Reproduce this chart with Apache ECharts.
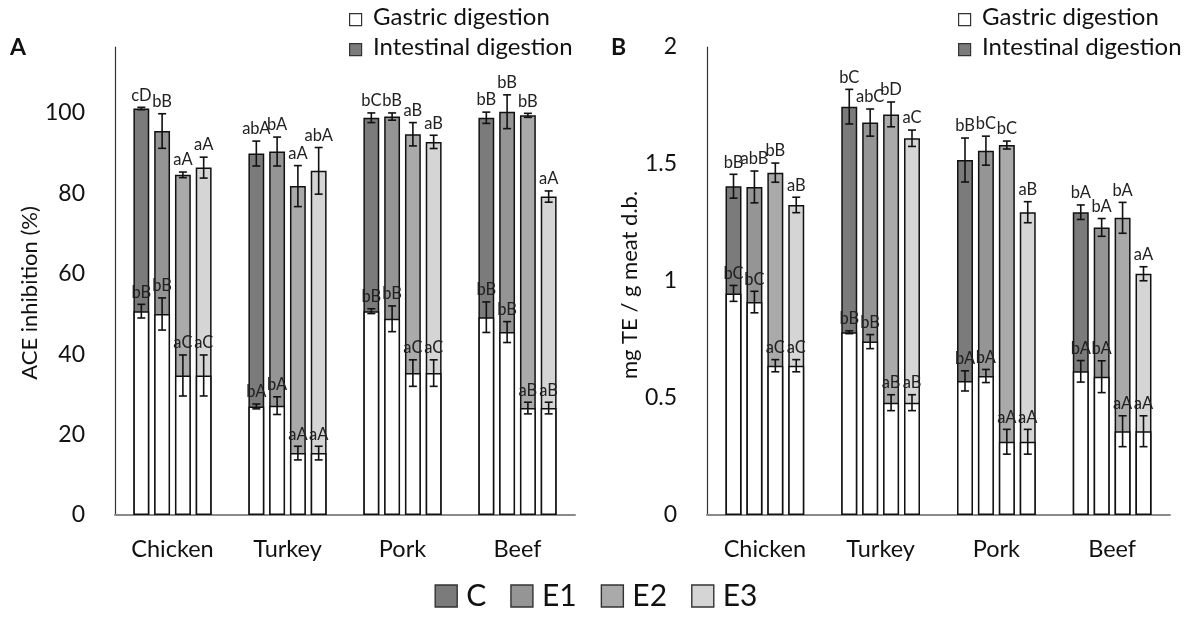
<!DOCTYPE html>
<html>
<head>
<meta charset="utf-8">
<script src="https://cdn.jsdelivr.net/npm/echarts@6/dist/echarts.min.js"></script>
<style>html,body{margin:0;padding:0;background:#fff}#c{width:1192px;height:624px}</style>
</head>
<body>
<div id="c"></div>
<script>
// ---------- DATA ----------
const categories = ['Chicken', 'Turkey', 'Pork', 'Beef'];
const treatments = ['C', 'E1', 'E2', 'E3'];
const yTicksA = [0, 20, 40, 60, 80, 100];
const yTicksB = [0, 0.5, 1, 1.5, 2];

// Panel A – ACE inhibition (%), intestinal digestion (total bar height)
const aIntC  = [101.1, 89.9, 98.8, 98.8];
const aIntE1 = [95.5, 90.4, 99.1, 100.3];
const aIntE2 = [84.6, 81.8, 94.7, 99.4];
const aIntE3 = [86.4, 85.6, 92.8, 79.2];
const aIntErrC  = [0.3, 3.1, 1.2, 1.4];
const aIntErrE1 = [4.3, 3.6, 0.9, 4.2];
const aIntErrE2 = [0.7, 5.1, 2.9, 0.5];
const aIntErrE3 = [2.6, 5.8, 1.65, 1.4];
const aIntLblC  = ['cD', 'abA', 'bC', 'bB'];
const aIntLblE1 = ['bB', 'bA', 'bB', 'bB'];
const aIntLblE2 = ['aA', 'aA', 'aB', 'bB'];
const aIntLblE3 = ['aA', 'abA', 'aB', 'aA'];
// Panel A – gastric digestion
const aGasC  = [50.7, 27.0, 50.7, 49.2];
const aGasE1 = [50.0, 27.2, 48.8, 45.5];
const aGasE2 = [34.7, 15.4, 35.3, 26.6];
const aGasE3 = [34.7, 15.4, 35.3, 26.6];
const aGasErrC  = [1.7, 0.6, 0.6, 3.8];
const aGasErrE1 = [4.0, 2.2, 3.2, 2.6];
const aGasErrE2 = [5.1, 1.7, 3.3, 1.45];
const aGasErrE3 = [5.1, 1.7, 3.3, 1.45];
const aGasLblC  = ['bB', 'bA', 'bB', 'bB'];
const aGasLblE1 = ['bB', 'bA', 'bB', 'bB'];
const aGasLblE2 = ['aC', 'aA', 'aC', 'aB'];
const aGasLblE3 = ['aC', 'aA', 'aC', 'aB'];

// Panel B – mg TE / g meat d.b., intestinal digestion
const bIntC  = [1.405, 1.745, 1.517, 1.294];
const bIntE1 = [1.402, 1.677, 1.557, 1.229];
const bIntE2 = [1.463, 1.712, 1.581, 1.270];
const bIntE3 = [1.325, 1.610, 1.294, 1.031];
const bIntErrC  = [0.051, 0.074, 0.094, 0.031];
const bIntErrE1 = [0.068, 0.058, 0.062, 0.038];
const bIntErrE2 = [0.041, 0.053, 0.017, 0.066];
const bIntErrE3 = [0.033, 0.035, 0.045, 0.030];
const bIntLblC  = ['bB', 'bC', 'bB', 'bA'];
const bIntLblE1 = ['abB', 'abC', 'bC', 'bA'];
const bIntLblE2 = ['bB', 'bD', 'bC', 'bA'];
const bIntLblE3 = ['aB', 'aC', 'aB', 'aA'];
// Panel B – gastric digestion
const bGasC  = [0.947, 0.781, 0.573, 0.614];
const bGasE1 = [0.910, 0.741, 0.594, 0.591];
const bGasE2 = [0.638, 0.480, 0.313, 0.358];
const bGasE3 = [0.638, 0.480, 0.313, 0.358];
const bGasErrC  = [0.034, 0.006, 0.043, 0.046];
const bGasErrE1 = [0.046, 0.030, 0.028, 0.068];
const bGasErrE2 = [0.026, 0.034, 0.053, 0.066];
const bGasErrE3 = [0.026, 0.034, 0.053, 0.066];
const bGasLblC  = ['bC', 'bB', 'bA', 'bA'];
const bGasLblE1 = ['bC', 'bB', 'bA', 'bA'];
const bGasLblE2 = ['aC', 'aB', 'aA', 'aA'];
const bGasLblE3 = ['aC', 'aB', 'aA', 'aA'];

// ---------- STYLE ----------
const FONT = 'Lato';
const colors = ['#7b7b7b', '#959595', '#aaaaaa', '#d5d5d5'];
const CAT_GAP = 0.32, BAR_GAP = 0.31;

const aInt = [aIntC, aIntE1, aIntE2, aIntE3];
const aIntErr = [aIntErrC, aIntErrE1, aIntErrE2, aIntErrE3];
const aIntLbl = [aIntLblC, aIntLblE1, aIntLblE2, aIntLblE3];
const aGas = [aGasC, aGasE1, aGasE2, aGasE3];
const aGasErr = [aGasErrC, aGasErrE1, aGasErrE2, aGasErrE3];
const aGasLbl = [aGasLblC, aGasLblE1, aGasLblE2, aGasLblE3];
const bInt = [bIntC, bIntE1, bIntE2, bIntE3];
const bIntErr = [bIntErrC, bIntErrE1, bIntErrE2, bIntErrE3];
const bIntLbl = [bIntLblC, bIntLblE1, bIntLblE2, bIntLblE3];
const bGas = [bGasC, bGasE1, bGasE2, bGasE3];
const bGasErr = [bGasErrC, bGasErrE1, bGasErrE2, bGasErrE3];
const bGasLbl = [bGasLblC, bGasLblE1, bGasLblE2, bGasLblE3];

function barSeries(name, data, color, xi, yi) {
  return {
    type: 'bar', name: name, data: data, xAxisIndex: xi, yAxisIndex: yi,
    barCategoryGap: (CAT_GAP * 100) + '%', barGap: (BAR_GAP * 100) + '%',
    itemStyle: { color: color, borderColor: '#111', borderWidth: 1.5 },
    emphasis: { disabled: true }, animation: false, z: 2
  };
}

function errSeries(vals, errs, lbls, xi, yi, z) {
  const data = [], labels = [];
  for (let t = 0; t < 4; t++) {
    for (let c = 0; c < 4; c++) {
      data.push([c, t, vals[t][c], errs[t][c]]);
      labels.push(lbls[t][c]);
    }
  }
  return {
    type: 'custom', xAxisIndex: xi, yAxisIndex: yi, data: data, z: z, clip: false,
    silent: true, animation: false,
    encode: { x: 0, y: 2 },
    renderItem: function (params, api) {
      const c = api.value(0), t = api.value(1), v = api.value(2), e = api.value(3);
      const band = api.size([1, 0])[0];
      const bw = band * (1 - CAT_GAP) / (4 + 3 * BAR_GAP);
      const off = (t - 1.5) * bw * (1 + BAR_GAP);
      const x = api.coord([c, v])[0] + off;
      const yT = api.coord([c, v + e])[1];
      const yB = api.coord([c, v - e])[1];
      const cap = 4;
      const st = { stroke: '#111', lineWidth: 1.6 };
      return {
        type: 'group',
        children: [
          { type: 'line', shape: { x1: x, y1: yT, x2: x, y2: yB }, style: st },
          { type: 'line', shape: { x1: x - cap, y1: yT, x2: x + cap, y2: yT }, style: st },
          { type: 'line', shape: { x1: x - cap, y1: yB, x2: x + cap, y2: yB }, style: st },
          { type: 'text', style: { x: x, y: yT - 12, text: labels[params.dataIndex],
              textAlign: 'center', textVerticalAlign: 'middle',
              fontFamily: FONT, fontSize: 16.5, fill: '#222' } }
        ]
      };
    }
  };
}

const series = [];
for (let t = 0; t < 4; t++) series.push(barSeries(treatments[t], aInt[t], colors[t], 0, 0));
for (let t = 0; t < 4; t++) series.push(barSeries('Gastric ' + treatments[t], aGas[t], '#fff', 1, 0));
for (let t = 0; t < 4; t++) series.push(barSeries(treatments[t], bInt[t], colors[t], 2, 1));
for (let t = 0; t < 4; t++) series.push(barSeries('Gastric ' + treatments[t], bGas[t], '#fff', 3, 1));
series.push(errSeries(aInt, aIntErr, aIntLbl, 0, 0, 5));
series.push(errSeries(aGas, aGasErr, aGasLbl, 1, 0, 6));
series.push(errSeries(bInt, bIntErr, bIntLbl, 2, 1, 5));
series.push(errSeries(bGas, bGasErr, bGasLbl, 3, 1, 6));

function xAxis(gi, show) {
  return {
    type: 'category', data: categories, gridIndex: gi, show: show,
    axisTick: { show: false },
    axisLine: { lineStyle: { color: '#8a8a8a', width: 2 } },
    axisLabel: { fontFamily: FONT, fontSize: 23.5, color: '#111', margin: 22 }
  };
}
function yAxis(gi, max, interval, ticks, name, gap, shift) {
  return {
    type: 'value', gridIndex: gi, min: 0, max: max, interval: interval,
    splitLine: { show: false }, axisTick: { show: false },
    axisLine: { show: true, lineStyle: { color: '#333', width: 1.2 } },
    axisLabel: {
      fontFamily: FONT, fontSize: 23, color: '#111', margin: 30,
      formatter: function (v) {
        const hit = ticks.find(function (k) { return Math.abs(k - v) < 1e-9; });
        return hit === undefined ? '' : String(hit);
      }
    },
    name: name, nameLocation: 'middle', nameGap: gap,
    nameTextStyle: { fontFamily: FONT, fontSize: 22, color: '#111', padding: [0, shift, 0, 0] }
  };
}

function topLegend(x) {
  return [
    { type: 'rect', left: x, top: 13, shape: { width: 12, height: 12 },
      style: { fill: '#fff', stroke: '#333', lineWidth: 1.2 } },
    { type: 'text', left: x + 24, top: 5, style: { text: 'Gastric digestion', fontFamily: FONT, fontSize: 24, fill: '#111' } },
    { type: 'rect', left: x, top: 43, shape: { width: 12, height: 12 },
      style: { fill: '#7b7b7b', stroke: '#333', lineWidth: 1.2 } },
    { type: 'text', left: x + 24, top: 35, style: { text: 'Intestinal digestion', fontFamily: FONT, fontSize: 24, fill: '#111' } }
  ];
}

const option = {
  backgroundColor: '#fff',
  animation: false,
  grid: [
    { left: 115, top: 47, width: 460, height: 468 },
    { left: 707, top: 47, width: 463, height: 468 }
  ],
  xAxis: [xAxis(0, true), xAxis(0, false), xAxis(1, true), xAxis(1, false)],
  yAxis: [
    yAxis(0, 116.4, 20, yTicksA, 'ACE inhibition (%)', 69, 24),
    yAxis(1, 2, 0.5, yTicksB, 'mg TE / g meat d.b.', 61, 8)
  ],
  legend: {
    data: treatments, bottom: 8, left: 'center', icon: 'rect',
    itemWidth: 22, itemHeight: 22, itemGap: 24,
    itemStyle: { borderColor: '#333', borderWidth: 1.4 },
    textStyle: { fontFamily: FONT, fontSize: 30, color: '#111', padding: [0, 0, 0, 4] },
    selectedMode: false
  },
  graphic: [
    { type: 'text', left: 10, top: 36, style: { text: 'A', fontFamily: FONT, fontSize: 23, fontWeight: 'bold', fill: '#111' } },
    { type: 'text', left: 611, top: 36, style: { text: 'B', fontFamily: FONT, fontSize: 23, fontWeight: 'bold', fill: '#111' } }
  ].concat(topLegend(349)).concat(topLegend(958)),
  series: series
};

const chart = echarts.init(document.getElementById('c'), null, { renderer: 'canvas' });
chart.setOption(option);
</script>
</body>
</html>
